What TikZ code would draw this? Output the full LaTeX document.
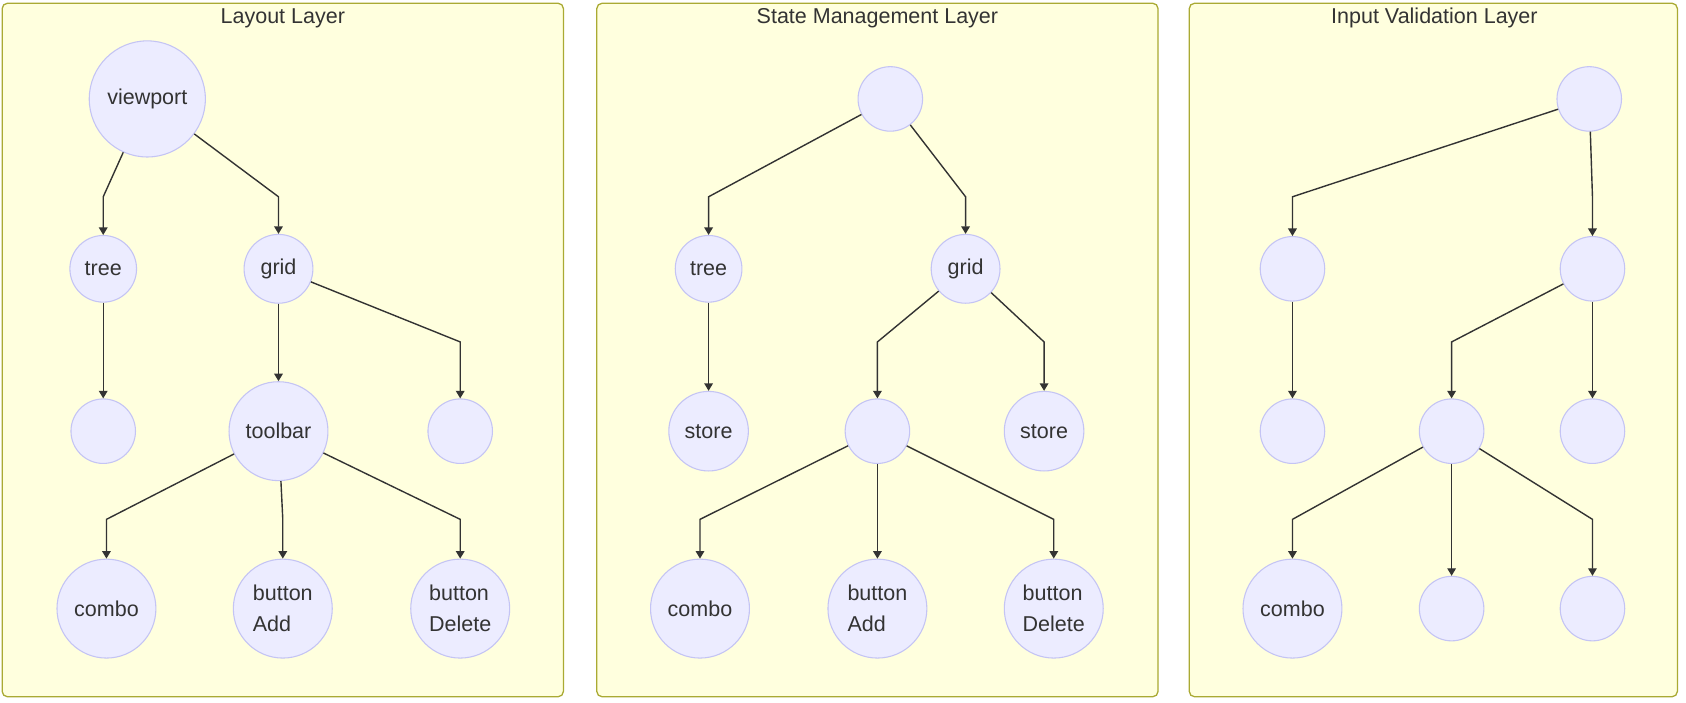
\documentclass[tikz,border=0pt]{standalone}
\usepackage{fontspec}
\setmainfont{Liberation Sans}
\usetikzlibrary{arrows.meta}
\definecolor{vfill}{HTML}{ECECFF}
\definecolor{vline}{HTML}{C4C4F4}
\definecolor{pfill}{HTML}{FFFFDE}
\definecolor{pline}{HTML}{AAAA33}
\definecolor{ink}{HTML}{333333}
\begin{document}
\begin{tikzpicture}[x=1pt, y=-1pt,
  every node/.style={text=ink, font=\fontsize{20}{29}\selectfont},
  panel/.style={draw=pline, fill=pfill, line width=1.2pt, rounded corners=5pt},
  vert/.style={circle, draw=vline, fill=vfill, line width=1pt, inner sep=0pt, align=left, minimum size=#1},
  vert/.default=60pt,
  link/.style={draw=ink, line width=1.3pt, -{Triangle[length=7pt, width=8pt]}}]
\useasboundingbox (0,0) rectangle (1568,653);
\draw[panel] (2,3) rectangle (524,648);
\draw[panel] (555,3) rectangle (1077,648);
\draw[panel] (1106,3) rectangle (1560,648);
\node (tit0) at (263,17) {Layout Layer};
\node (tit1) at (816,17) {State Management Layer};
\node (tit2) at (1334,17) {Input Validation Layer};
\coordinate (r1) at (0,183);
\coordinate (r2) at (0,318);
\coordinate (r3) at (0,483);

\node[vert=108pt] (lay0) at (137,92){viewport};
\node[vert=62pt] (lay1) at (96,250){tree};
\node[vert=64pt] (lay2) at (259,250){grid};
\node[vert] (lay3) at (96,401){};
\node[vert=92pt] (lay4) at (259,401){toolbar};
\node[vert] (lay5) at (428,401){};
\node[vert=92pt] (lay6) at (99,566){combo};
\node[vert=92pt] (lay7) at (263,566){button\\Add};
\node[vert=92pt] (lay8) at (428,566){button\\Delete};
\draw[link](lay0) -- (lay1 |- r1) -- (lay1);
\draw[link](lay0) -- (lay2 |- r1) -- (lay2);
\draw[link](lay1) -- (lay3);
\draw[link](lay2) -- (lay4);
\draw[link](lay2) -- (lay5 |- r2) -- (lay5);
\draw[link](lay4) -- (lay6 |- r3) -- (lay6);
\draw[link](lay4) -- (lay7 |- r3) -- (lay7);
\draw[link](lay4) -- (lay8 |- r3) -- (lay8);

\node[vert] (sta0) at (828,92){};
\node[vert=62pt] (sta1) at (659,250){tree};
\node[vert=64pt] (sta2) at (898,250){grid};
\node[vert=74pt] (sta3) at (659,401){store};
\node[vert] (sta4) at (816,401){};
\node[vert=74pt] (sta5) at (971,401){store};
\node[vert=92pt] (sta6) at (651,566){combo};
\node[vert=92pt] (sta7) at (816,566){button\\Add};
\node[vert=92pt] (sta8) at (980,566){button\\Delete};
\draw[link](sta0) -- (sta1 |- r1) -- (sta1);
\draw[link](sta0) -- (sta2 |- r1) -- (sta2);
\draw[link](sta1) -- (sta3);
\draw[link](sta2) -- (sta4 |- r2) -- (sta4);
\draw[link](sta2) -- (sta5 |- r2) -- (sta5);
\draw[link](sta4) -- (sta6 |- r3) -- (sta6);
\draw[link](sta4) -- (sta7);
\draw[link](sta4) -- (sta8 |- r3) -- (sta8);

\node[vert] (inp0) at (1478,92){};
\node[vert] (inp1) at (1202,250){};
\node[vert] (inp2) at (1481,250){};
\node[vert] (inp3) at (1202,401){};
\node[vert] (inp4) at (1350,401){};
\node[vert] (inp5) at (1481,401){};
\node[vert=92pt] (inp6) at (1202,566){combo};
\node[vert] (inp7) at (1350,566){};
\node[vert] (inp8) at (1481,566){};
\draw[link](inp0) -- (inp1 |- r1) -- (inp1);
\draw[link](inp0) -- (inp2 |- r1) -- (inp2);
\draw[link](inp1) -- (inp3);
\draw[link](inp2) -- (inp4 |- r2) -- (inp4);
\draw[link](inp2) -- (inp5);
\draw[link](inp4) -- (inp6 |- r3) -- (inp6);
\draw[link](inp4) -- (inp7);
\draw[link](inp4) -- (inp8 |- r3) -- (inp8);

\end{tikzpicture}
\end{document}
